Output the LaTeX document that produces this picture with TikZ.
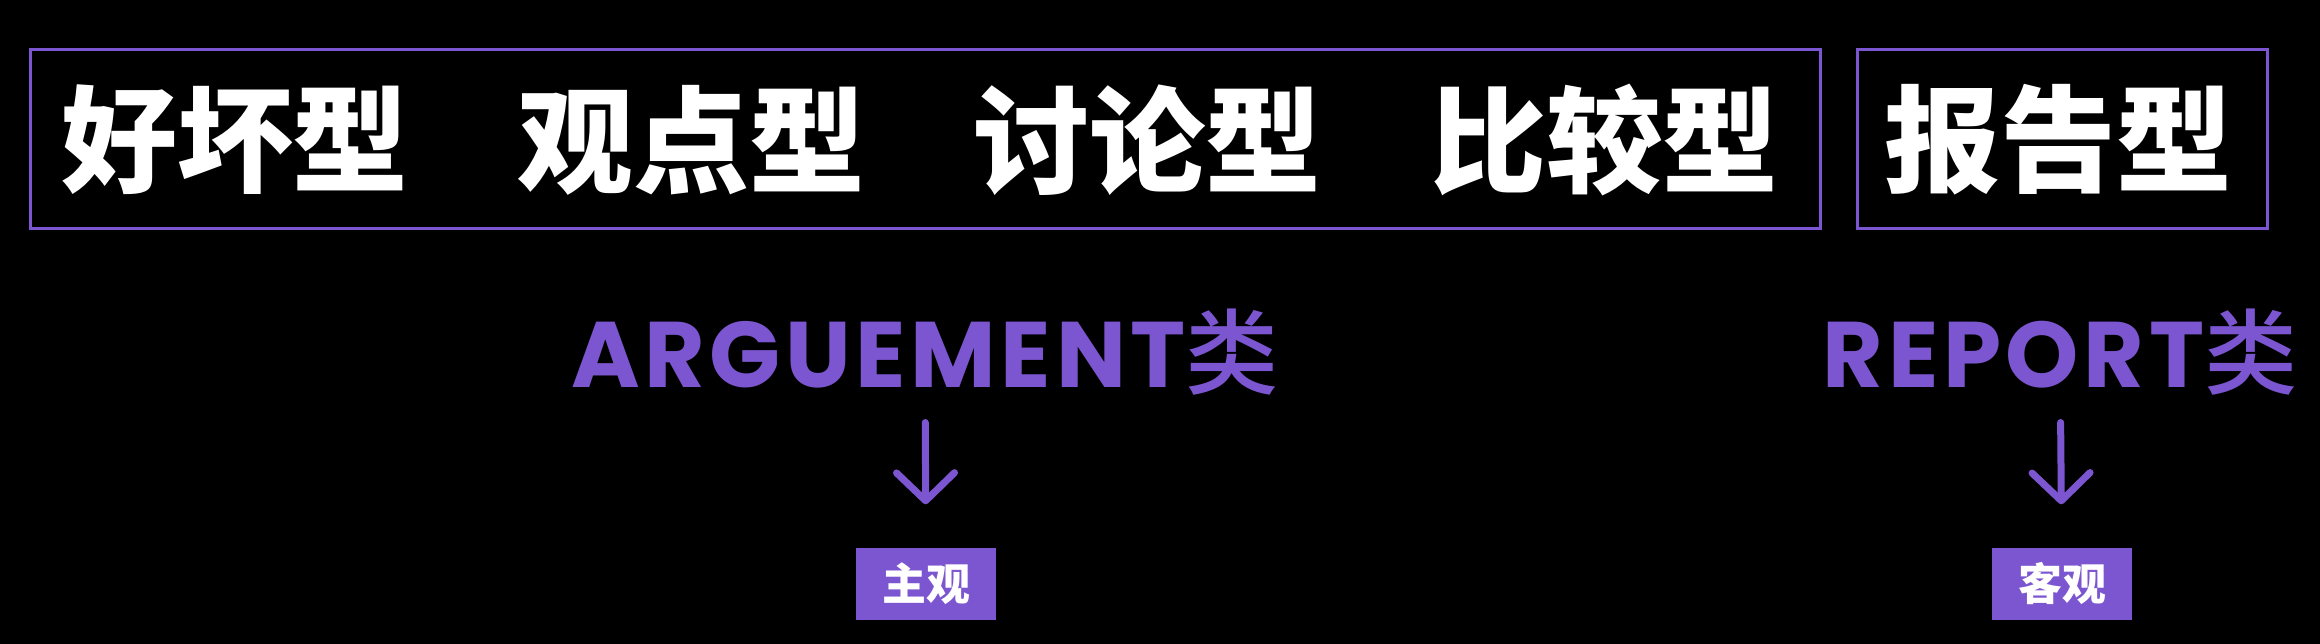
\documentclass[tikz,border=0pt]{standalone}
\usepackage{fontspec}
\usetikzlibrary{positioning,arrows.meta}
\newfontfamily\cjk{Noto Sans CJK SC}
\newfontfamily\cjkm{Noto Sans CJK SC Medium}
\newfontfamily\popp{Poppins Bold}[LetterSpace=5]
\definecolor{vio}{RGB}{124,86,208}

\begin{document}
\begin{tikzpicture}
[x=0.1mm,y=-0.1mm,
word/.style={text=white, inner sep=0pt, font=\cjk\bfseries\fontsize{33}{33}\selectfont},
frame/.style={draw=vio, line width=0.3mm},
kind/.style={text=vio, inner sep=0pt, anchor=base, font=\fontsize{26.5}{26.5}\selectfont},
tag/.style={fill=vio, text=white, inner sep=0pt, minimum width=14mm, minimum height=7.2mm, font=\cjk\bfseries\fontsize{12.5}{12.5}\selectfont},
arr/.style={-{Straight Barb[length=2.8mm,width=5.8mm,round]}, vio, line width=0.7mm, line cap=round, shorten <=2.6mm, shorten >=4.3mm}]
\fill[black] (0,0) rectangle (2320,644);

% top row
\node[word] (w1) at (235,140) {好坏型};
\node[word, right=10.7mm of w1] (w2) {观点型};
\node[word, right=10.7mm of w2] (w3) {讨论型};
\node[word, right=10.7mm of w3] (w4) {比较型};
\node[word] (w5) at (2058,140) {报告型};
\draw[frame] (30,50) rectangle (1820,229);
\draw[frame] (1857,50) rectangle (2267,229);

% classes
\node[kind] (arg) at (925,388) {{\popp ARGUEMENT}{\cjkm 类}};
\node[kind] (rep) at (2060,388) {{\popp REPORT}{\cjkm 类}};

\node[tag] (subj) at (926,584) {主观};
\node[tag] (obj) at (2062,584) {客观};
\draw[arr] (arg) -- (subj);
\draw[arr] (rep) -- (obj);
\end{tikzpicture}
\end{document}
